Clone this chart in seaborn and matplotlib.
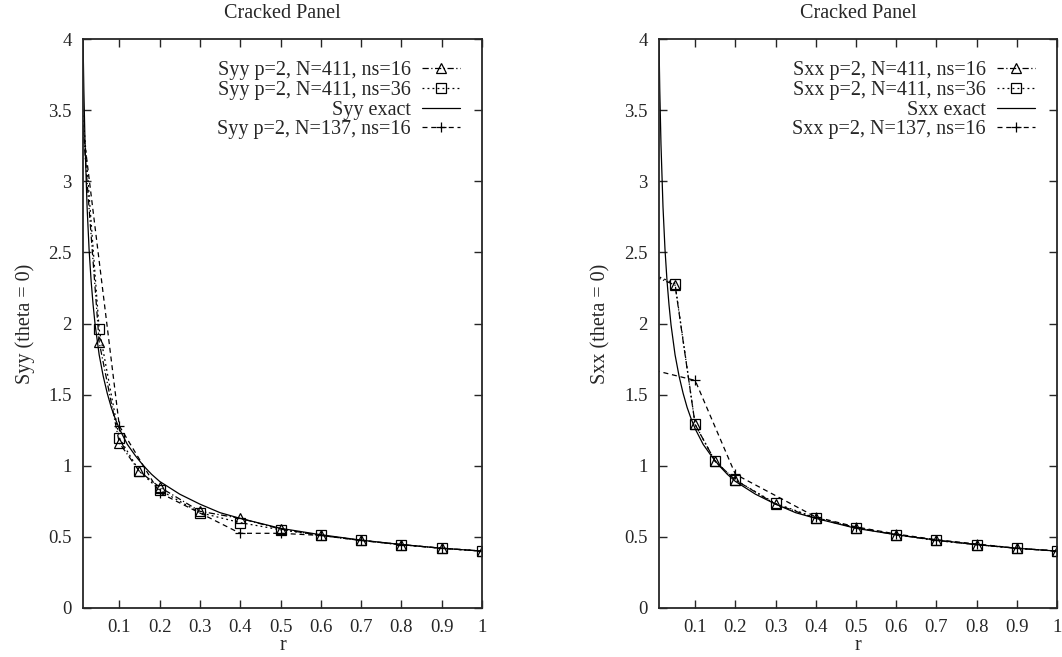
import matplotlib
matplotlib.use("Agg")
import matplotlib.pyplot as plt
import matplotlib.ticker as mticker
import seaborn as sns
import pandas as pd

# values
r_fine = [0, 0.05, 0.1, 0.15, 0.2, 0.3, 0.4, 0.5, 0.6, 0.7, 0.8, 0.9, 1.0]
r_coarse = [0, 0.1, 0.2, 0.4, 0.5, 0.6, 0.7, 0.8, 0.9, 1.0]
r_exact = [0.01, 0.012, 0.015, 0.02, 0.025, 0.03, 0.035, 0.04, 0.05, 0.06, 0.07,
           0.08, 0.09, 0.1, 0.12, 0.14, 0.16, 0.18, 0.2, 0.25, 0.3, 0.35, 0.4,
           0.5, 0.6, 0.7, 0.8, 0.9, 1.0]
exact_vals = [3.99, 3.64, 3.26, 2.82, 2.52, 2.30, 2.13, 1.99, 1.78, 1.63, 1.51,
              1.41, 1.33, 1.26, 1.15, 1.07, 1.00, 0.94, 0.89, 0.80, 0.73, 0.67, 0.63,
              0.56, 0.515, 0.477, 0.446, 0.42, 0.40]

syy_n411_ns16 = [3.75, 1.87, 1.16, 0.96, 0.85, 0.68, 0.63, 0.555, 0.51, 0.475, 0.445, 0.42, 0.40]
syy_n411_ns36 = [3.85, 1.96, 1.195, 0.96, 0.83, 0.67, 0.60, 0.55, 0.51, 0.475, 0.445, 0.42, 0.40]
syy_n137_ns16 = [3.6, 1.28, 0.81, 0.525, 0.525, 0.51, 0.475, 0.445, 0.42, 0.40]

sxx_n411_ns16 = [2.33, 2.27, 1.29, 1.03, 0.90, 0.73, 0.63, 0.565, 0.515, 0.475, 0.445, 0.42, 0.40]
sxx_n411_ns36 = [2.34, 2.28, 1.29, 1.03, 0.90, 0.735, 0.635, 0.565, 0.515, 0.475, 0.445, 0.42, 0.40]
sxx_n137_ns16 = [1.67, 1.60, 0.94, 0.64, 0.57, 0.52, 0.48, 0.45, 0.42, 0.40]

sns.set_style("ticks")
plt.rcParams['font.family'] = ['Liberation Serif', 'DejaVu Serif']
FS = 13.5
FS_BIG = 14.5

fig = plt.figure(figsize=(10.62, 6.57), dpi=100)
axL = fig.add_axes([0.0782, 0.0746, 0.3757, 0.866])
axR = fig.add_axes([0.6205, 0.0746, 0.3748, 0.866])

mk = dict(color="k", linewidth=0.9, markersize=6.5, markerfacecolor="none",
          markeredgecolor="k", markeredgewidth=0.9)


def drawPanel(ax, comp, ns16, ns36, exact, coarse):
    df1 = pd.DataFrame({"r": r_fine, "v": ns16})
    df2 = pd.DataFrame({"r": r_fine, "v": ns36})
    df3 = pd.DataFrame({"r": r_exact, "v": exact})
    df4 = pd.DataFrame({"r": r_coarse, "v": coarse})
    # r=0 lies left of the plotted range, no marker there
    skipFine = list(range(1, len(r_fine)))
    skipCoarse = list(range(1, len(r_coarse)))
    sns.lineplot(data=df1, x="r", y="v", ax=ax, marker="^", markevery=skipFine,
                 linestyle=(0, (5, 2, 1, 2)),
                 label=comp + " p=2, N=411, ns=16", **mk)
    sns.lineplot(data=df2, x="r", y="v", ax=ax, marker="s", markevery=skipFine,
                 linestyle=(0, (1.5, 2.5)),
                 label=comp + " p=2, N=411, ns=36", **mk)
    sns.lineplot(data=df3, x="r", y="v", ax=ax, linestyle="-",
                 label=comp + " exact", color="k", linewidth=0.9)
    sns.lineplot(data=df4, x="r", y="v", ax=ax, marker="+", markevery=skipCoarse,
                 linestyle=(0, (4, 3)),
                 label=comp + " p=2, N=137, ns=16", **mk)

    ax.set_xlim(0.01, 1.0)
    ax.set_ylim(0, 4)
    ax.set_xticks([0.1, 0.2, 0.3, 0.4, 0.5, 0.6, 0.7, 0.8, 0.9, 1.0])
    ax.set_yticks([0, 0.5, 1, 1.5, 2, 2.5, 3, 3.5, 4])
    ax.xaxis.set_major_formatter(mticker.FormatStrFormatter('%g'))
    ax.yaxis.set_major_formatter(mticker.FormatStrFormatter('%g'))
    ax.tick_params(direction="in", length=6, width=1, top=True, right=True,
                   labelsize=FS, pad=8)
    for s in ax.spines.values():
        s.set_linewidth(1.3)
    ax.set_title("Cracked Panel", fontsize=FS_BIG, pad=15)
    ax.set_xlabel("r", fontsize=FS_BIG, labelpad=0)
    ax.set_ylabel(comp + " (theta = 0)", fontsize=FS_BIG, labelpad=10)
    ax.legend(loc="upper right", markerfirst=False, frameon=False, fontsize=FS_BIG,
              handlelength=1.9, handletextpad=0.55, labelspacing=0.03,
              borderaxespad=0.7)


drawPanel(axL, "Syy", syy_n411_ns16, syy_n411_ns36, exact_vals, syy_n137_ns16)
drawPanel(axR, "Sxx", sxx_n411_ns16, sxx_n411_ns36, exact_vals, sxx_n137_ns16)

fig.savefig("out.png", dpi=100)
